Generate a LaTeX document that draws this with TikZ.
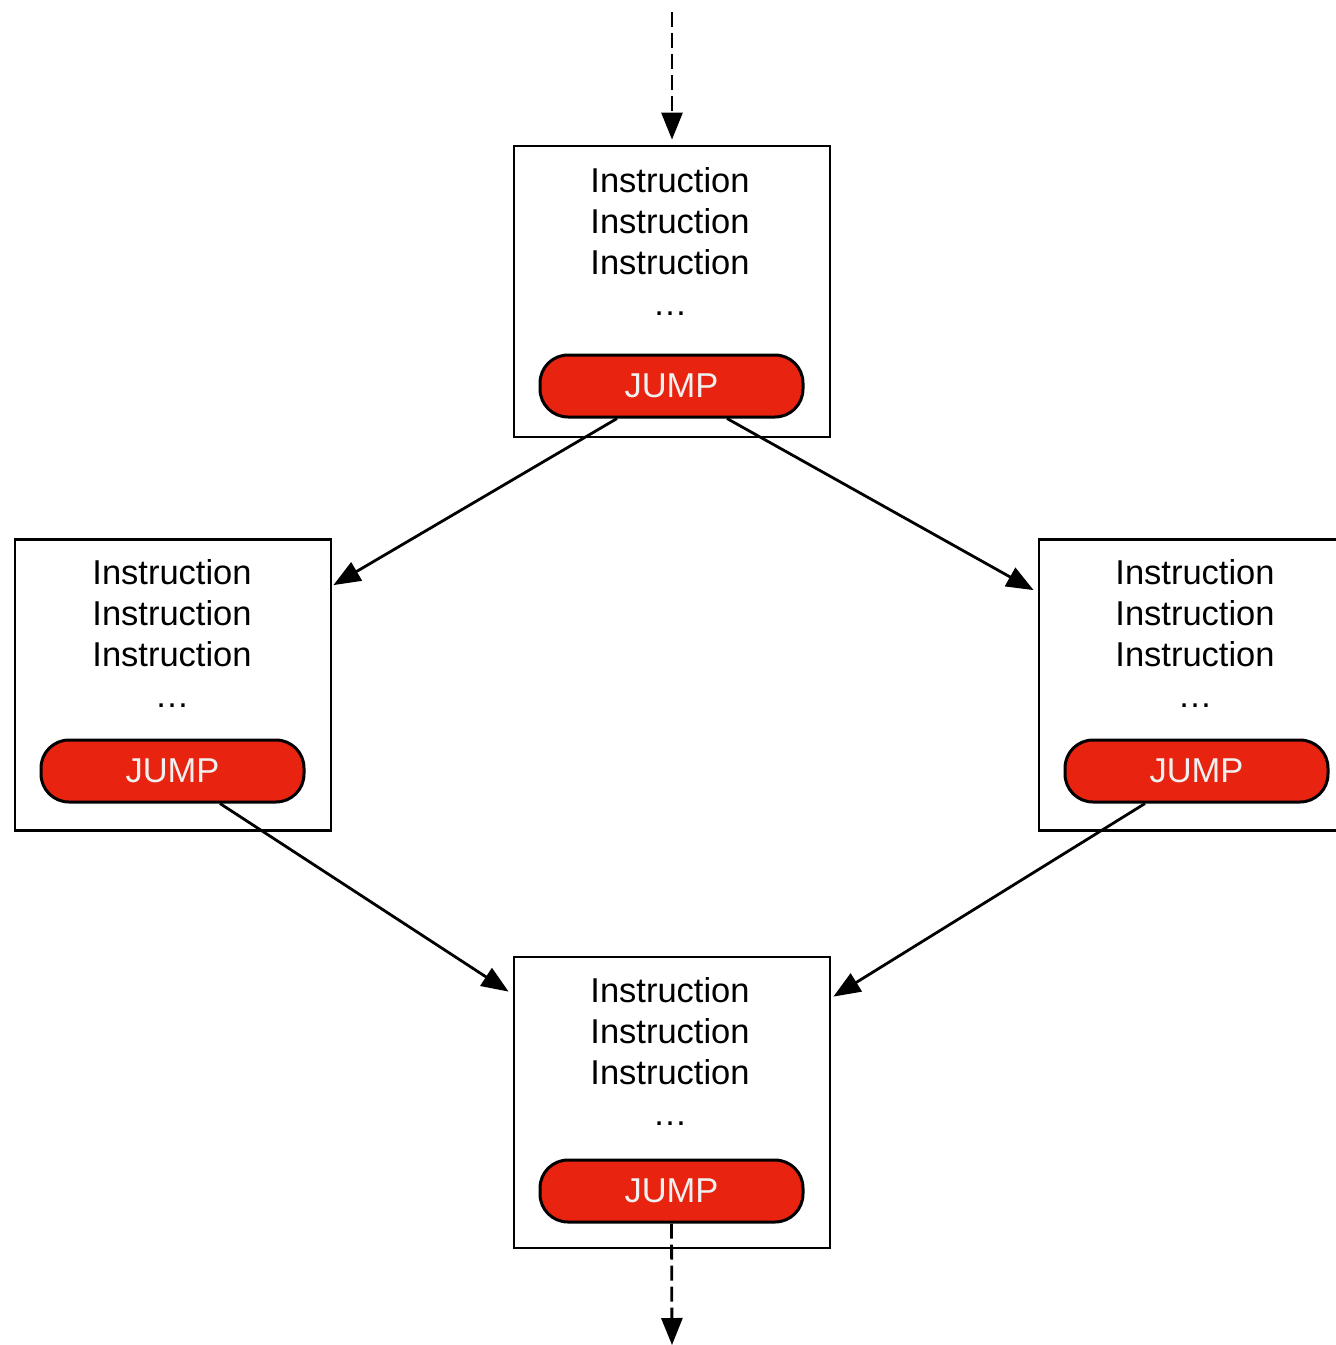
\documentclass[tikz,border=0pt]{standalone}
\usepackage{fontspec}
\setmainfont{Liberation Sans}
\usetikzlibrary{arrows.meta,calc}
\definecolor{jumpred}{RGB}{232,35,15}
\definecolor{jumptext}{RGB}{240,240,240}
\begin{document}
\begin{tikzpicture}[x=1pt,y=-1pt,
  blockbox/.style={draw=black,line width=2.8pt,fill=white,minimum width=316pt,minimum height=291pt,inner sep=0pt},
  linetext/.style={anchor=base,inner sep=0pt,font=\fontsize{34.5}{41}\selectfont},
  jumppill/.style={draw=black,line width=3pt,fill=jumpred,rounded corners=28pt,minimum width=263pt,minimum height=62pt,inner sep=0pt,text=jumptext,font=\fontsize{34.5}{41}\selectfont},
  flow/.style={line width=2.8pt,-{Triangle[length=27pt,width=21pt]}},
  entry/.style={flow,dash pattern=on 15pt off 6pt}]
\path[use as bounding box] (0,0) rectangle (1336,1345);
\clip (0,0) rectangle (1336,1345);

% ---- blocks: box, three instruction lines, ellipsis, jump pill ----
% top block
\node[blockbox] (tb) at (672,291.5) {};
\node[linetext] (tb1) at (670,192) {Instruction};
\node[linetext] (tb2) at (670,233) {Instruction};
\node[linetext] (tb3) at (670,274) {Instruction};
\node[linetext] (tb4) at (670,315) {…};
\node[jumppill] (tj) at (671.5,386) {JUMP};

% left block
\node[blockbox] (lb) at (173,685) {};
\node[linetext] (lb1) at (172,584) {Instruction};
\node[linetext] (lb2) at (172,625) {Instruction};
\node[linetext] (lb3) at (172,666) {Instruction};
\node[linetext] (lb4) at (172,707) {…};
\node[jumppill] (lj) at (172.5,771) {JUMP};

% right block
\node[blockbox] (rb) at (1197,685) {};
\node[linetext] (rb1) at (1195,584) {Instruction};
\node[linetext] (rb2) at (1195,625) {Instruction};
\node[linetext] (rb3) at (1195,666) {Instruction};
\node[linetext] (rb4) at (1195,707) {…};
\node[jumppill] (rj) at (1196.5,771) {JUMP};

% bottom block
\node[blockbox] (bb) at (672,1102.5) {};
\node[linetext] (bb1) at (670,1002) {Instruction};
\node[linetext] (bb2) at (670,1043) {Instruction};
\node[linetext] (bb3) at (670,1084) {Instruction};
\node[linetext] (bb4) at (670,1125) {…};
\node[jumppill] (bj) at (671.5,1191) {JUMP};

% free ends of the entry and exit arrows
\coordinate (in) at (672,12);
\coordinate (out) at (672,1345);

% ---- connectors ----
\draw[entry,shorten >=5pt] (in) -- (tb.north);
\draw[flow] ($(tj.south)+(-54.5,0)$) -- ($(lb.north east)+(1,47)$);
\draw[flow] ($(tj.south)+(55.5,0)$) -- ($(rb.north west)+(-4,52)$);
\draw[flow] ($(lj.south)+(47.5,0)$) -- ($(bb.north west)+(-4,36)$);
\draw[flow] ($(rj.south)+(-51.5,0)$) -- ($(bb.north east)+(2,41)$);
\draw[entry] (bj.south) -- (out);
\end{tikzpicture}
\end{document}
